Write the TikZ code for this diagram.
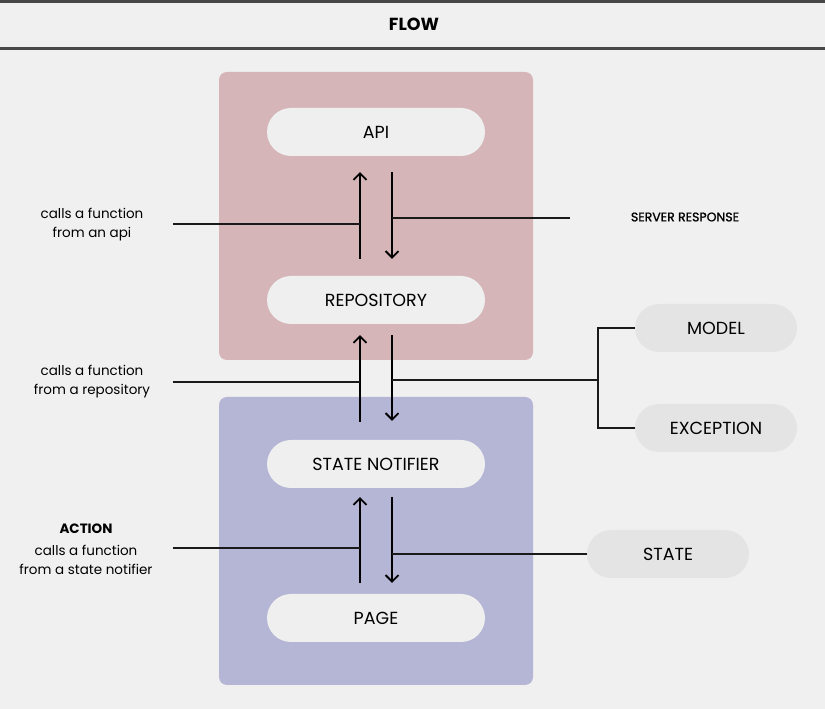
\documentclass[tikz,border=0pt]{standalone}
\usepackage{fontspec}
\setmainfont{Poppins}
\newfontfamily\mediumfont{Poppins}[FakeBold=1.2]
\usepackage{tikz}
\usetikzlibrary{arrows, arrows.meta}

\definecolor{bgcol}{HTML}{F0F0F0}
\definecolor{barcol}{HTML}{474747}
\definecolor{datacol}{HTML}{D5B5B7}
\definecolor{uicol}{HTML}{B5B5D5}
\definecolor{pillcol}{HTML}{EFEFEF}
\definecolor{sidecol}{HTML}{E4E4E4}
\definecolor{linecol}{HTML}{1A1A1A}

\begin{document}
\begin{tikzpicture}[x=1pt, y=1pt, node distance=164pt]
        \tikzstyle{layer} = [rectangle, rounded corners=8pt, minimum width=314pt, minimum height=288pt, inner sep=0pt]
        \tikzstyle{pill} = [rectangle, rounded corners=24pt, minimum width=218pt, minimum height=48pt, text centered, fill=pillcol, font=\fontsize{17.5}{20}\selectfont]
        \tikzstyle{sidepill} = [pill, minimum width=162pt, fill=sidecol]
        \tikzstyle{note} = [align=center, font=\fontsize{13.5}{19}\selectfont]
        \tikzstyle{arrow} = [line width=1.8pt, draw=black, ->, >={Straight Barb[length=6.5pt, width=13pt]}]
        \tikzstyle{line} = [line width=1.8pt, draw=linecol]

        % page and title bar
        \fill [bgcol] (0,0) rectangle (825,709);
        \useasboundingbox (0,0) rectangle (825,709);
        \draw [barcol, line width=3pt] (0,707.5) -- (825,707.5);
        \draw [barcol, line width=3pt] (0,660.5) -- (825,660.5);
        \node (title) at (414,685) {\fontsize{17.5}{20}\selectfont\bfseries FLOW};

        % layers
        \node (data) [layer, fill=datacol] at (376,493) {};
        \node (ui) [layer, fill=uicol] at (376,168) {};

        % main flow
        \node (api) [pill] at (376,577) {API};
        \node (repo) [pill, below of=api, yshift=-4pt] {REPOSITORY};
        \node (notifier) [pill, below of=repo] {STATE NOTIFIER};
        \node (page) [pill, below of=notifier, yshift=10pt] {PAGE};

        % side results
        \node (model) [sidepill] at (716,381) {MODEL};
        \node (exception) [sidepill, below of=model, yshift=64pt] {EXCEPTION};
        \node (state) [sidepill] at (668,155) {STATE};

        % notes
        \node (callapi) [note] at (92,484) {calls a function\\from an api};
        \node (callrepo) [note] at (92,327.5) {calls a function\\from a repository};
        \node (action) [note] at (86,160) {\textbf{ACTION}\\[3pt]calls a function\\from a state notifier};
        \node (response) at (685,492) {\fontsize{12.5}{14}\mediumfont SERVER RESPONSE};

        % arrows
        \draw [arrow, shorten <=17pt, shorten >=16pt] ([xshift=-16pt]repo.north) -- ([xshift=-16pt]api.south);
        \draw [arrow, shorten <=16pt, shorten >=17pt] ([xshift=16pt]api.south) -- ([xshift=16pt]repo.north);
        \draw [arrow, shorten <=18pt, shorten >=11pt] ([xshift=-16pt]notifier.north) -- ([xshift=-16pt]repo.south);
        \draw [arrow, shorten <=11pt, shorten >=19pt] ([xshift=16pt]repo.south) -- ([xshift=16pt]notifier.north);
        \draw [arrow, shorten <=11pt, shorten >=9pt] ([xshift=-16pt]page.north) -- ([xshift=-16pt]notifier.south);
        \draw [arrow, shorten <=9pt, shorten >=11pt] ([xshift=16pt]notifier.south) -- ([xshift=16pt]page.north);

        % lines to notes
        \coordinate (apiL) at (173,485);
        \coordinate (apiR) at (570,491);
        \coordinate (repoL) at (173,327);
        \coordinate (fork) at (598,329);
        \coordinate (notifierL) at (173,161);
        \draw [line] (apiL) -- (apiL -| 360,0);
        \draw [line] (apiR -| 392,0) -- (apiR);
        \draw [line] (repoL) -- (repoL -| 360,0);
        \draw [line] (fork -| 392,0) -- (fork);
        \draw [line] (model.west) -| (fork) |- (exception.west);
        \draw [line] (notifierL) -- (notifierL -| 360,0);
        \draw [line] (state.west -| 392,0) -- (state.west);
\end{tikzpicture}
\end{document}
